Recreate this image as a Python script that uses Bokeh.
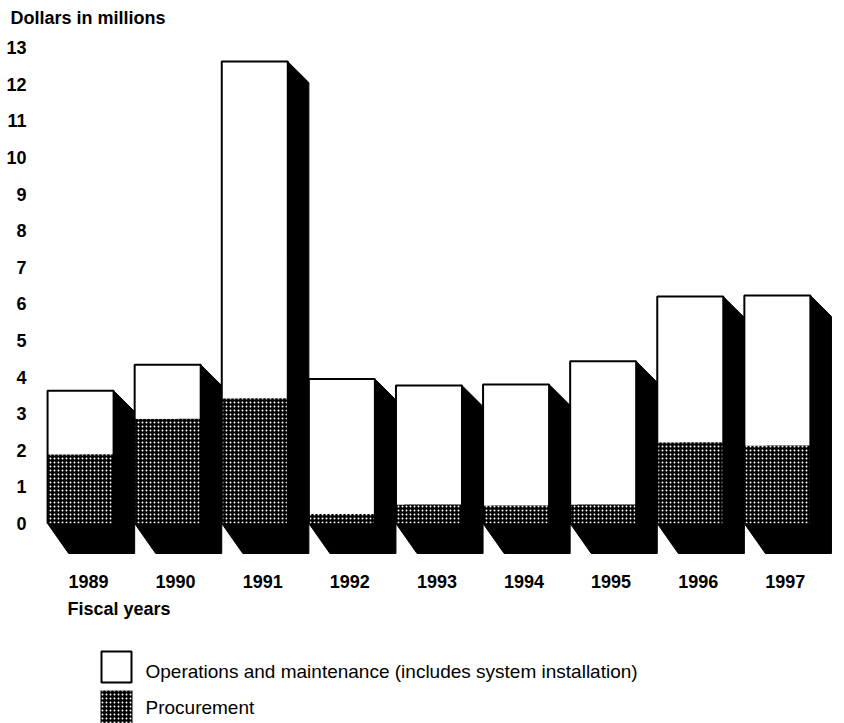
from bokeh.plotting import figure
from bokeh.models import Range1d, FixedTicker
from bokeh.embed import file_html
from bokeh.resources import INLINE
from bokeh.core.properties import value

# ---------------- data ----------------
years = [1989, 1990, 1991, 1992, 1993, 1994, 1995, 1996, 1997]
procurement = [1.89, 2.86, 3.42, 0.26, 0.52, 0.49, 0.52, 2.22, 2.13]
operations = [1.74, 1.48, 9.20, 3.69, 3.25, 3.31, 3.91, 3.98, 4.10]
y_ticks = list(range(0, 14))
x_tick_labels = [str(y) for y in years]
y_title = "Dollars in millions"
x_title = "Fiscal years"
legend_labels = ["Operations and maintenance (includes system installation)", "Procurement"]

W, H = 844, 723
FONT = value("Liberation Sans")

# ---------------- geometry (picture pixels) ----------------
PX_PER_YEAR = 87.1
PX_PER_UNIT = 36.6
X_1989 = 88      # pixel x of the 1989 label centre
Y_ZERO = 523     # pixel y of value 0

x0 = years[0] - X_1989 / PX_PER_YEAR
x1 = x0 + W / PX_PER_YEAR
y_top = Y_ZERO / PX_PER_UNIT
y_bot = (Y_ZERO - H) / PX_PER_UNIT


def dx(px):
    return years[0] + (px - X_1989) / PX_PER_YEAR


def dy(py):
    return (Y_ZERO - py) / PX_PER_UNIT


BAR_OFF = 0.47
BAR_W = 0.758
DEPTH_X = 1 - BAR_W
DEPTH_TOP = 21 / PX_PER_UNIT
DEPTH_BOT = 30 / PX_PER_UNIT

lefts = [y - BAR_OFF for y in years]
rights = [l + BAR_W for l in lefts]
totals = [a + b for a, b in zip(procurement, operations)]

p = figure(width=W, height=H, x_range=Range1d(x0, x1), y_range=Range1d(y_bot, y_top),
           output_backend="svg", toolbar_location=None, min_border=0)
p.outline_line_color = None
p.grid.visible = False

STIPPLE = dict(fill_color="black", hatch_pattern="dot", hatch_color="white",
               hatch_scale=4, hatch_weight=1)

# shadows
sx, sy = [], []
for l, r, t in zip(lefts, rights, totals):
    sx.append([r, r + DEPTH_X, r + DEPTH_X, l + DEPTH_X, l])
    sy.append([t, t - DEPTH_TOP, -DEPTH_BOT, -DEPTH_BOT, 0])
p.patches(sx, sy, fill_color="black", line_color="black", line_width=1)

# procurement (stippled)
p.quad(left=lefts, right=rights, bottom=0, top=procurement, line_color=None, **STIPPLE)
# operations (white)
p.quad(left=lefts, right=rights, bottom=procurement, top=totals,
       fill_color="white", line_color=None)
ox = [[l, l, r, r] for l, r in zip(lefts, rights)]
oy = [[0, t, t, 0] for t in totals]
p.multi_line(ox, oy, line_color="black", line_width=2)

# axes placed at fixed locations inside the full-canvas frame
p.xaxis.fixed_location = dy(560)
p.yaxis.fixed_location = dx(44)
for ax in (p.xaxis[0], p.yaxis[0]):
    ax.axis_line_color = None
    ax.major_tick_line_color = None
    ax.minor_tick_line_color = None
    ax.major_label_text_font = "Liberation Sans"
    ax.major_label_text_font_style = "bold"
    ax.major_label_text_font_size = "18px"
    ax.major_label_text_color = "black"
    ax.major_label_standoff = 12
p.xaxis.major_label_standoff = 8

p.xaxis.ticker = FixedTicker(ticks=years)
p.xaxis.major_label_overrides = {y: s for y, s in zip(years, x_tick_labels)}
p.yaxis.ticker = FixedTicker(ticks=y_ticks)
p.yaxis.major_label_overrides = {t: str(t) for t in y_ticks}

# ---------------- titles ----------------
p.text(x=[dx(10)], y=[dy(17)], text=[y_title], text_font=FONT, text_font_style="bold",
       text_font_size="18px", text_baseline="alphabetic", text_color="black")
p.text(x=[dx(67)], y=[dy(608)], text=[x_title], text_font=FONT, text_font_style="bold",
       text_font_size="18px", text_baseline="alphabetic", text_color="black")

# ---------------- legend ----------------
p.quad(left=[dx(101)], right=[dx(131)], top=[dy(651)], bottom=[dy(682)],
       fill_color="white", line_color="black", line_width=2)
p.quad(left=[dx(100)], right=[dx(132)], top=[dy(690)], bottom=[dy(730)],
       line_color=None, **STIPPLE)
p.text(x=[dx(145), dx(145)], y=[dy(671), dy(707)], text=legend_labels, text_font=FONT,
       text_font_size="19px", text_baseline="alphabetic", text_color="black")

open("out.html", "w").write(file_html(p, INLINE))
